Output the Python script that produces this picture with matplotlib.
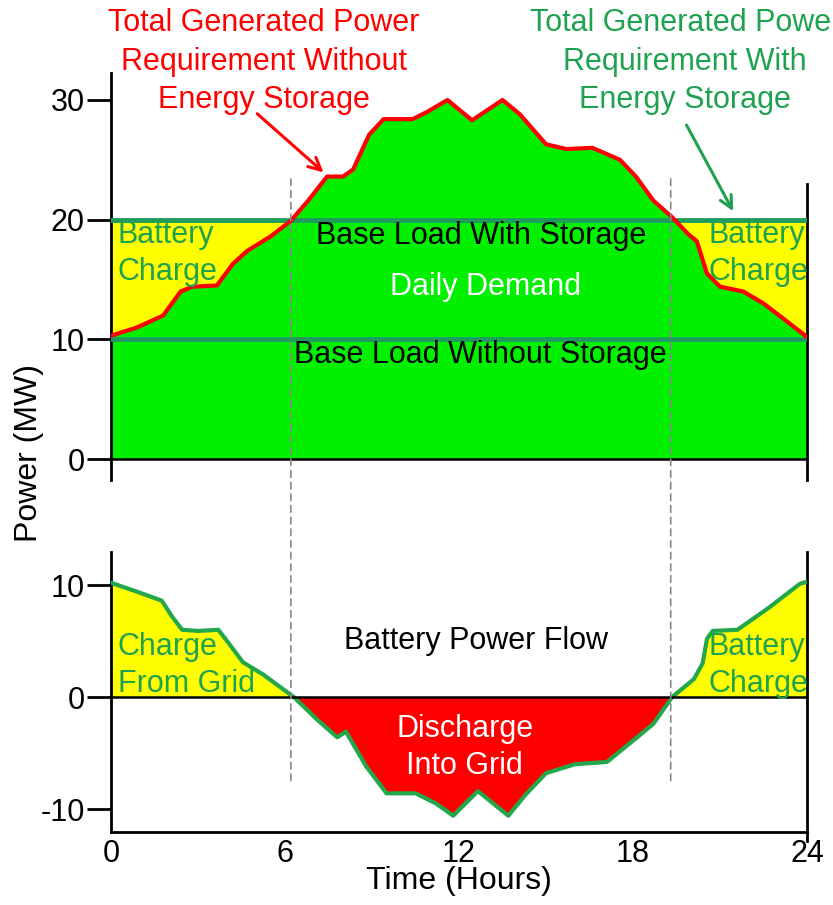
import numpy as np
import matplotlib
matplotlib.use("Agg")
import matplotlib.pyplot as plt
from matplotlib.patches import ConnectionPatch

plt.rcParams['font.family'] = ['Liberation Sans', 'DejaVu Sans']
plt.rcParams['axes.unicode_minus'] = False

# demanda diaria (MW) sin almacenamiento
t_dem = [0, 0.9, 1.8, 2.4, 2.8, 3.65, 4.2, 4.7, 5.5, 6.2, 6.8, 7.45, 8.0, 8.35,
         8.9, 9.4, 10.4, 10.9, 11.6, 12.45, 13.5, 14.1, 15.0, 15.7, 16.6, 17.55,
         18.1, 18.7, 19.35, 19.9, 20.2, 20.55, 21.0, 21.8, 22.5, 23.2, 24]
demanda = [10.3, 11.0, 12.0, 14.0, 14.4, 14.5, 16.3, 17.4, 18.6, 19.9, 21.6, 23.6,
           23.6, 24.2, 27.1, 28.4, 28.4, 29.0, 30.0, 28.3, 30.0, 28.8, 26.3, 25.9,
           26.0, 25.0, 23.6, 21.6, 20.2, 18.8, 18.2, 15.5, 14.4, 14.0, 13.0, 11.7, 10.2]

# flujo de potencia de la bateria (MW)
t_bat = [0, 0.9, 1.75, 2.1, 2.45, 3.0, 3.7, 4.0, 4.55, 5.25, 6.3, 6.7, 7.1, 7.8,
         8.1, 8.8, 9.5, 10.5, 11.2, 11.8, 12.65, 13.7, 14.3, 15.0, 16.0, 17.1,
         18.0, 18.7, 19.35, 20.1, 20.4, 20.55, 20.75, 21.6, 22.7, 23.75, 24]
flujo = [10.2, 9.4, 8.6, 7.2, 6.0, 5.9, 6.0, 5.0, 3.1, 2.0, 0, -1.0, -2.0, -3.6,
         -3.1, -6.2, -8.6, -8.6, -9.5, -10.6, -8.4, -10.6, -8.7, -6.8, -6.0, -5.8,
         -3.9, -2.4, 0, 1.6, 3.0, 5.2, 5.9, 6.0, 8.0, 10.1, 10.3]

base_con = 20
base_sin = 10
t_corte = [6.2, 19.3]

ticks_x = [0, 6, 12, 18, 24]
ticks_arriba = [0, 10, 20, 30]
ticks_abajo = [-10, 0, 10]

verde_txt = '#1fa24f'
verde_linea = '#1e9c5e'
lima = '#00f000'

t_dem = np.array(t_dem)
demanda = np.array(demanda)
t_bat = np.array(t_bat)
flujo = np.array(flujo)

fig = plt.figure(figsize=(8.33, 9.05), dpi=100)
ax1 = fig.add_axes([0.1333, 0.4696, 0.8355, 0.4497])
ax2 = fig.add_axes([0.1333, 0.0807, 0.8355, 0.3094])

# ---- panel de arriba
ax1.fill_between(t_dem, 0, demanda, color=lima, lw=0)
ax1.fill_between(t_dem, demanda, base_con, where=demanda <= base_con + 0.3,
                 interpolate=True, color='#ffff00', lw=0)
ax1.axhline(base_con, color=verde_linea, lw=3.5, zorder=3)
ax1.axhline(base_sin, color=verde_linea, lw=3.5, zorder=3)
ax1.plot(t_dem, demanda, color='#ff0000', lw=3, zorder=4, solid_joinstyle='round')
ax1.axhline(0, color='black', lw=1.8, zorder=5)

ax1.set_xlim(0, 24)
ax1.set_ylim(-1.75, 32.25)
ax1.spines['top'].set_visible(False)
ax1.spines['bottom'].set_visible(False)
ax1.spines['left'].set_linewidth(2)
ax1.spines['right'].set_linewidth(2)
ax1.spines['right'].set_bounds(-1.75, 23.0)
ax1.set_xticks([])
ax1.set_yticks(ticks_arriba)
ax1.tick_params(axis='y', length=17, width=2, pad=2, labelsize=22)

fs = 22
ax1.text(5.28, 33.2, "Total Generated Power\nRequirement Without\nEnergy Storage",
         color='#ff0000', fontsize=fs, ha='center', va='center', linespacing=1.38)
ax1.annotate('', xy=(7.4, 23.8), xytext=(4.97, 29.0),
             arrowprops=dict(arrowstyle='->', color='#ff0000', lw=2.2,
                             mutation_scale=22))
# el titulo verde queda cortado en el borde derecho, como en el original
ax1.text(19.8, 33.2, "Total Generated Power\nRequirement With\nEnergy Storage",
         color=verde_txt, fontsize=fs, ha='center', va='center', linespacing=1.38)
ax1.annotate('', xy=(21.5, 20.5), xytext=(19.8, 28.1),
             arrowprops=dict(arrowstyle='->', color=verde_txt, lw=2.2,
                             mutation_scale=22))

ax1.text(0.24, 17.15, "Battery\nCharge", color=verde_txt, fontsize=fs,
         ha='left', va='center', linespacing=1.3, zorder=6)
ax1.text(20.6, 17.15, "Battery\nCharge", color=verde_txt, fontsize=fs,
         ha='left', va='center', linespacing=1.3, zorder=6)
ax1.text(12.76, 18.6, "Base Load With Storage", color='black', fontsize=fs,
         ha='center', va='center', zorder=6)
ax1.text(12.93, 14.4, "Daily Demand", color='white', fontsize=fs,
         ha='center', va='center', zorder=6)
ax1.text(12.72, 8.7, "Base Load Without Storage", color='black', fontsize=fs,
         ha='center', va='center', zorder=6)

# ---- panel de abajo
ax2.fill_between(t_bat, 0, flujo, where=flujo >= 0, interpolate=True,
                 color='#ffff00', lw=0)
ax2.fill_between(t_bat, 0, flujo, where=flujo <= 0, interpolate=True,
                 color='#ff0000', lw=0)
ax2.plot(t_bat, flujo, color='#22a84a', lw=3, zorder=4, solid_joinstyle='round')
ax2.axhline(0, color='black', lw=1.8, zorder=5)

ax2.set_xlim(0, 24)
ax2.set_ylim(-12.05, 12.95)
ax2.spines['top'].set_visible(False)
for s in ['left', 'right', 'bottom']:
    ax2.spines[s].set_linewidth(2)
ax2.spines['right'].set_bounds(-12.9, 12.95)
ax2.set_xticks(ticks_x)
ax2.set_yticks(ticks_abajo)
ax2.tick_params(axis='y', length=17, width=2, pad=2, labelsize=22)
ax2.tick_params(axis='x', length=0, pad=5, labelsize=22)

ax2.text(0.24, 2.8, "Charge\nFrom Grid", color=verde_txt, fontsize=fs,
         ha='left', va='center', linespacing=1.3, zorder=6)
ax2.text(20.6, 2.8, "Battery\nCharge", color=verde_txt, fontsize=fs,
         ha='left', va='center', linespacing=1.3, zorder=6)
ax2.text(12.6, 5.0, "Battery Power Flow", color='black', fontsize=fs,
         ha='center', va='center', zorder=6)
ax2.text(12.2, -4.5, "Discharge\nInto Grid", color='white', fontsize=fs,
         ha='center', va='center', linespacing=1.3, zorder=6)

ax2.set_xlabel("Time (Hours)", fontsize=23, labelpad=-2)

# lineas punteadas que cruzan ambos paneles
for tc in t_corte:
    con = ConnectionPatch(xyA=(tc, 23.4), coordsA=ax1.transData,
                          xyB=(tc, -7.5), coordsB=ax2.transData,
                          color='#888888', lw=1.2, linestyle=(0, (4, 3)),
                          zorder=7)
    fig.add_artist(con)

fig.text(0.035, 0.5, "Power (MW)", rotation=90, fontsize=23,
         ha='center', va='center')

fig.savefig("out.png", dpi=100)
